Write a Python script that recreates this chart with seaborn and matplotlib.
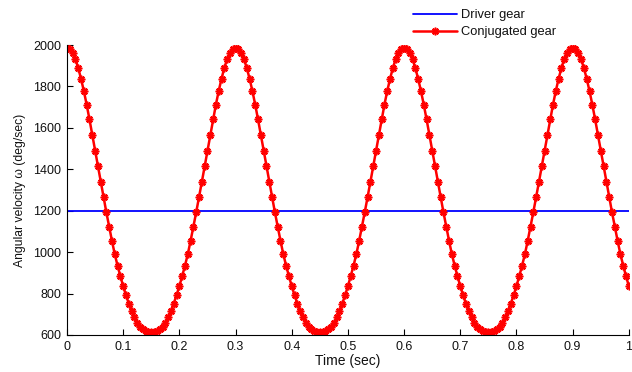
import numpy as np
import pandas as pd
import matplotlib
matplotlib.use("Agg")
import matplotlib.pyplot as plt
import seaborn as sns

# Time samples (sec), one marker every 0.005 s
time_sec = np.round(np.arange(0, 201) * 0.005, 3)

# Conjugated gear angular velocity (deg/sec)
conjugated = [
    1985, 1979, 1962, 1932, 1889, 1837, 1778, 1712, 1641, 1566, 1490, 1414, 1339, 1265, 1193, 1123,
    1055, 990, 935, 884, 836, 792, 752, 716, 685, 660, 640, 627, 619, 615, 613,
    615, 619, 627, 640, 660, 685, 716, 752, 792, 836, 884, 935, 990, 1055, 1123, 1193, 1265, 1339,
    1414, 1490, 1566, 1641, 1712, 1778, 1837, 1889, 1932, 1962, 1979, 1985,
    1979, 1962, 1932, 1889, 1837, 1778, 1712, 1641, 1566, 1490, 1414, 1339, 1265, 1193, 1123,
    1055, 990, 935, 884, 836, 792, 752, 716, 685, 660, 640, 627, 619, 615, 613,
    615, 619, 627, 640, 660, 685, 716, 752, 792, 836, 884, 935, 990, 1055, 1123, 1193, 1265, 1339,
    1414, 1490, 1566, 1641, 1712, 1778, 1837, 1889, 1932, 1962, 1979, 1985,
    1979, 1962, 1932, 1889, 1837, 1778, 1712, 1641, 1566, 1490, 1414, 1339, 1265, 1193, 1123,
    1055, 990, 935, 884, 836, 792, 752, 716, 685, 660, 640, 627, 619, 615, 613,
    615, 619, 627, 640, 660, 685, 716, 752, 792, 836, 884, 935, 990, 1055, 1123, 1193, 1265, 1339,
    1414, 1490, 1566, 1641, 1712, 1778, 1837, 1889, 1932, 1962, 1979, 1985,
    1979, 1962, 1932, 1889, 1837, 1778, 1712, 1641, 1566, 1490, 1414, 1339, 1265, 1193, 1123,
    1055, 990, 935, 884, 836,
]

# Driver gear (constant)
driver_time = [0.0, 1.0]
driver_speed = [1200, 1200]

x_ticks = [0, 0.1, 0.2, 0.3, 0.4, 0.5, 0.6, 0.7, 0.8, 0.9, 1]
x_ticklabels = ["0", "0.1", "0.2", "0.3", "0.4", "0.5", "0.6", "0.7", "0.8", "0.9", "1"]
y_ticks = [600, 800, 1000, 1200, 1400, 1600, 1800, 2000]

sns.set_style("white")
plt.rcParams['font.family'] = ['Liberation Sans', 'DejaVu Sans']

fig = plt.figure(figsize=(6.32, 3.72), dpi=100)
ax = fig.add_axes([0.106, 0.0995, 0.889, 0.7795])

df_conj = pd.DataFrame({"t": time_sec, "w": conjugated})
df_drv = pd.DataFrame({"t": driver_time, "w": driver_speed})

sns.lineplot(data=df_drv, x="t", y="w", ax=ax, color="#0000ff", linewidth=1.3,
             label="Driver gear")
sns.lineplot(data=df_conj, x="t", y="w", ax=ax, color="#ff0000", linewidth=1.8,
             marker=(8, 2, 0), markersize=5.5, markeredgewidth=1.2,
             markeredgecolor="#ff0000", label="Conjugated gear")

ax.set_xlim(0, 1)
ax.set_ylim(600, 2000)
ax.set_xticks(x_ticks)
ax.set_xticklabels(x_ticklabels)
ax.set_yticks(y_ticks)
ax.tick_params(direction="in", length=4, width=0.8, labelsize=9, colors="#000000",
               pad=4, bottom=True, left=True)
for lbl in ax.get_xticklabels() + ax.get_yticklabels():
    lbl.set_color("#111111")

for s in ["top", "right"]:
    ax.spines[s].set_visible(False)
for s in ["left", "bottom"]:
    ax.spines[s].set_color("#000000")
    ax.spines[s].set_linewidth(0.8)

ax.set_xlabel("Time (sec)", fontsize=10, labelpad=1, color="#111111")
ax.set_ylabel("Angular velocity ω (deg/sec)", fontsize=8.7, labelpad=5, color="#111111")

leg = ax.legend(loc="upper left", bbox_to_anchor=(413 / 632, 1 - 9 / 372),
                bbox_transform=fig.transFigure, frameon=False,
                fontsize=9.3, handlelength=3.4, handletextpad=0.3, labelspacing=0.4,
                borderaxespad=0, borderpad=0)
for txt in leg.get_texts():
    txt.set_color("#111111")

fig.savefig("out.png", dpi=100, facecolor="white")
